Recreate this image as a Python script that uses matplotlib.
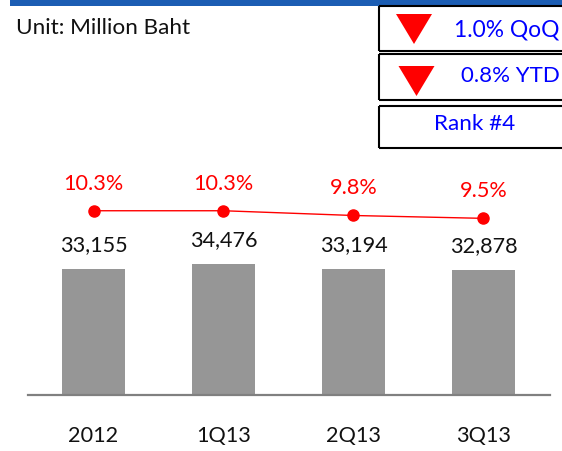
import numpy as np
import matplotlib.pyplot as plt
from matplotlib.patches import Rectangle, Polygon
from matplotlib.lines import Line2D

categories = ['2012', '1Q13', '2Q13', '3Q13']
values = [33155, 34476, 33194, 32878]
ratios = [10.3, 10.3, 9.8, 9.5]
value_labels = ['33,155', '34,476', '33,194', '32,878']
ratio_labels = ['10.3%', '10.3%', '9.8%', '9.5%']
unit_text = 'Unit: Million Baht'
qoq_text = '1.0% QoQ'
ytd_text = '0.8% YTD'
rank_text = 'Rank #4'

W, H = 562, 451
FONT = 'Lato'
FS = 15.6


def fx(px):
    return px / W


def fy(py):
    # py measured from top of the image
    return 1 - py / H


def main():
    fig = plt.figure(figsize=(W / 100, H / 100), dpi=100)
    plt.rcParams['font.family'] = [FONT, 'DejaVu Sans']

    # blue band on top
    fig.patches.append(Rectangle((fx(10), fy(6)), fx(W), 6 / H, transform=fig.transFigure,
                                 facecolor='#1b5db3', edgecolor='none'))

    fig.text(fx(16), fy(28), unit_text, fontsize=FS + 0.6, va='center', ha='left', color='#111111')

    # boxes on the right, open past the image edge
    for top, bottom in [(6, 51), (54, 100), (106, 148)]:
        for xs, ys in [([379, W], [top, top]), ([379, W], [bottom, bottom]), ([379, 379], [top, bottom])]:
            fig.add_artist(Line2D([fx(v) for v in xs], [fy(v) for v in ys], transform=fig.transFigure,
                                  color='black', linewidth=1.5, solid_capstyle='butt'))
    for left, top in [(396, 14), (398.5, 66)]:
        fig.patches.append(Polygon([(fx(left), fy(top)), (fx(left + 36), fy(top)),
                                    (fx(left + 18), fy(top + 30))], closed=True,
                                   transform=fig.transFigure, facecolor='#ff0000', edgecolor='none'))
    fig.text(fx(454), fy(30), qoq_text, fontsize=FS + 0.8, color='#0000ff', va='center', ha='left')
    fig.text(fx(461), fy(76), ytd_text, fontsize=FS + 0.4, color='#0000ff', va='center', ha='left')
    fig.text(fx(475), fy(124), rank_text, fontsize=FS + 0.6, color='#0000ff', va='center', ha='center')

    # bars
    ax_top, ax_bottom = 150, 394.5
    ax = fig.add_axes([fx(28), fy(ax_bottom), fx(549.5 - 28), (ax_bottom - ax_top) / H])
    x = np.arange(len(categories))
    ax.bar(x, values, width=0.48, color='#969696')
    ax.set_xlim(-0.504, 3.508)
    ax.set_ylim(0, 64600)
    ax.set_xticks(x)
    ax.set_xticklabels(categories, fontsize=FS, color='#111111')
    ax.tick_params(axis='x', length=0, pad=23)
    ax.set_yticks([])
    for s in ['top', 'left', 'right']:
        ax.spines[s].set_visible(False)
    ax.spines['bottom'].set_color('#808080')
    ax.spines['bottom'].set_linewidth(1.6)
    ax.patch.set_alpha(0)
    for i in range(len(values)):
        ax.annotate(value_labels[i], (x[i], values[i]), xytext=(0, 24), textcoords='offset pixels',
                    ha='center', va='center', fontsize=FS, color='#111111')

    # ratio line
    ax2 = ax.twinx()
    ax2.plot(x, ratios, '-o', color='#ff0000', linewidth=1, markersize=8)
    ax2.set_ylim(-9.03, 16.69)
    ax2.axis('off')
    for i in range(len(ratios)):
        ax2.annotate(ratio_labels[i], (x[i], ratios[i]), xytext=(0, 27), textcoords='offset pixels',
                     ha='center', va='center', fontsize=FS, color='#ff0000')

    fig.savefig('out.png', dpi=100)


if __name__ == '__main__':
    main()
